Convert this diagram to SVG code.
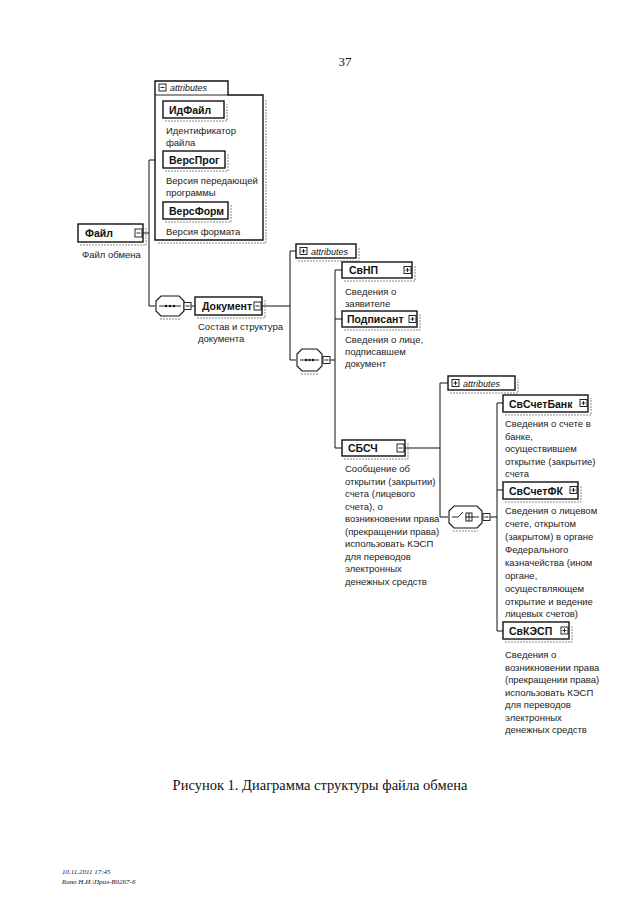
<svg xmlns="http://www.w3.org/2000/svg" width="640" height="905" viewBox="0 0 640 905">
<defs>
<style>
.bg{fill:#ffffff}
.node{fill:#ffffff;stroke:#111;stroke-width:1.4}
.shadow{fill:none;stroke:#888;stroke-width:1;stroke-dasharray:2,1}
.lbl{font-family:"Liberation Sans",Arial,sans-serif;font-size:10.5px;font-weight:bold;fill:#111}
.desc{font-family:"Liberation Sans",Arial,sans-serif;font-size:9.5px;fill:#222}
.attr{font-family:"Liberation Sans",Arial,sans-serif;font-size:9px;font-style:italic;fill:#111}
.pm{fill:#fff;stroke:#111;stroke-width:0.9}
.pmline{stroke:#111;stroke-width:0.9;fill:none}
.conn{stroke:#111;stroke-width:1;fill:none}
.comp{fill:#fff;stroke:#111;stroke-width:1.1}
.serif{font-family:"Liberation Serif","Times New Roman",serif;fill:#111}
</style>
</defs>
<rect class="bg" x="0" y="0" width="640" height="905"/>
<text class="serif" x="345" y="66" font-size="13" text-anchor="middle">37</text>

<g id="connectors">
<path class="conn" d="M143,233 H149 M149,160 V306 M149,160 H155 M149,306 H155"/>
<path class="conn" d="M191,306 H195"/>
<path class="conn" d="M262,306 H290 M290,251 V360 M290,251 H296 M290,360 H296"/>
<path class="conn" d="M330,360 H335 M335,270 V448 M335,270 H342 M335,319 H342 M335,448 H342"/>
<path class="conn" d="M405,448 H440 M440,383 V517 M440,383 H448 M440,517 H448"/>
<path class="conn" d="M490,517 H497 M497,403 V631 M497,403 H503 M497,490 H503 M497,631 H503"/>
</g>

<g id="attributes1">
<path class="shadow" d="M158,243 H266 V99"/>
<path class="node" d="M155,240 V81 H228 V95 H263 V240 Z" stroke-width="1"/>
<line class="pmline" x1="155" y1="95" x2="228" y2="95"/>
<rect class="pm" x="159" y="84" width="7" height="7"/>
<path class="pmline" d="M160.5,87.5 H164.5"/>
<text class="attr" x="170" y="91">attributes</text>
</g>

<g id="node-IdFile">
<path class="shadow" d="M165,121 H227 V104"/>
<rect class="node" x="163" y="101" width="61" height="17"/>
<text class="lbl" x="169" y="113.5">ИдФайл</text>
<text class="desc" x="166" y="134">Идентификатор</text>
<text class="desc" x="166" y="146">файла</text>
</g>

<g id="node-VersProg">
<path class="shadow" d="M165,171 H228 V154"/>
<rect class="node" x="163" y="151" width="62" height="17"/>
<text class="lbl" x="169" y="163.5">ВерсПрог</text>
<text class="desc" x="166" y="184">Версия передающей</text>
<text class="desc" x="166" y="196">программы</text>
</g>

<g id="node-VersForm">
<path class="shadow" d="M165,222 H231 V205"/>
<rect class="node" x="163" y="202" width="65" height="17"/>
<text class="lbl" x="169" y="214.5">ВерсФорм</text>
<text class="desc" x="166" y="235">Версия формата</text>
</g>

<g id="node-File">
<path class="shadow" d="M80,245 H146 V227"/>
<rect class="node" x="78" y="224" width="65" height="18"/>
<rect class="pm" x="135" y="229" width="7" height="8"/>
<path class="pmline" d="M136.5,233 H140.5"/>
<text class="lbl" x="85" y="237">Файл</text>
<text class="desc" x="82" y="258">Файл обмена</text>
</g>

<g id="compositor1">
<path class="shadow" d="M160,319 H180"/>
<path class="comp" d="M161,296 H179 L184,301 V311 L179,316 H161 L156,311 V301 Z"/>
<path class="pmline" d="M159,306 H181"/>
<circle cx="166" cy="306" r="1.2" fill="#111"/>
<circle cx="170" cy="306" r="1.2" fill="#111"/>
<circle cx="174" cy="306" r="1.2" fill="#111"/>
<rect class="pm" x="184" y="302.5" width="7" height="7"/>
<path class="pmline" d="M185.5,306 H189.5"/>
</g>

<g id="node-Document">
<path class="shadow" d="M197,318 H265 V300"/>
<rect class="node" x="195" y="297" width="67" height="18"/>
<rect class="pm" x="254" y="302" width="7" height="8"/>
<path class="pmline" d="M255.5,306 H259.5"/>
<text class="lbl" x="202" y="310">Документ</text>
<text class="desc" x="198" y="330">Состав и структура</text>
<text class="desc" x="198" y="342">документа</text>
</g>

<g id="attributes2">
<path class="shadow" d="M298,261 H359 V247"/>
<rect class="node" x="296" y="244" width="60" height="14" stroke-width="1"/>
<rect class="pm" x="300" y="247.5" width="7" height="7"/>
<path class="pmline" d="M301.5,251 H305.5 M303.5,249 V253"/>
<text class="attr" x="311" y="254.5">attributes</text>
</g>

<g id="compositor2">
<path class="shadow" d="M301,374 H318"/>
<path class="comp" d="M302,349 H317 L322,354 V366 L317,371 H302 L297,366 V354 Z"/>
<path class="pmline" d="M300,360 H319"/>
<circle cx="306" cy="360" r="1.2" fill="#111"/>
<circle cx="309.5" cy="360" r="1.2" fill="#111"/>
<circle cx="313" cy="360" r="1.2" fill="#111"/>
<rect class="pm" x="323" y="356.5" width="7" height="7"/>
<path class="pmline" d="M324.5,360 H328.5"/>
</g>

<g id="node-SvNP">
<path class="shadow" d="M344,281 H415 V265"/>
<rect class="node" x="342" y="262" width="70" height="16"/>
<rect class="pm" x="404" y="266.5" width="7" height="7"/>
<path class="pmline" d="M405.5,270 H409.5 M407.5,268 V272"/>
<text class="lbl" x="349" y="274">СвНП</text>
<text class="desc" x="345" y="295">Сведения о</text>
<text class="desc" x="345" y="307">заявителе</text>
</g>

<g id="node-Podpisant">
<path class="shadow" d="M344,330 H420 V314"/>
<rect class="node" x="342" y="311" width="75" height="16"/>
<rect class="pm" x="409" y="315.5" width="7" height="7"/>
<path class="pmline" d="M410.5,319 H414.5 M412.5,317 V321"/>
<text class="lbl" x="347" y="323">Подписант</text>
<text class="desc" x="345" y="343">Сведения о лице,</text>
<text class="desc" x="345" y="355">подписавшем</text>
<text class="desc" x="345" y="367">документ</text>
</g>

<g id="node-SBSCh">
<path class="shadow" d="M344,459 H408 V443"/>
<rect class="node" x="342" y="440" width="63" height="16"/>
<rect class="pm" x="397" y="444" width="7" height="8"/>
<path class="pmline" d="M398.5,448 H402.5"/>
<text class="lbl" x="348" y="452">СБСЧ</text>
<text class="desc" x="345" y="472">Сообщение об</text>
<text class="desc" x="345" y="484.5">открытии (закрытии)</text>
<text class="desc" x="345" y="497">счета (лицевого</text>
<text class="desc" x="345" y="509.5">счета), о</text>
<text class="desc" x="345" y="522">возникновении права</text>
<text class="desc" x="345" y="534.5">(прекращении права)</text>
<text class="desc" x="345" y="547">использовать КЭСП</text>
<text class="desc" x="345" y="559.5">для переводов</text>
<text class="desc" x="345" y="572">электронных</text>
<text class="desc" x="345" y="584.5">денежных средств</text>
</g>

<g id="attributes3">
<path class="shadow" d="M450,393 H518 V379"/>
<rect class="node" x="448" y="376" width="67" height="14" stroke-width="1"/>
<rect class="pm" x="452" y="379.5" width="7" height="7"/>
<path class="pmline" d="M453.5,383 H457.5 M455.5,381 V385"/>
<text class="attr" x="463" y="386.5">attributes</text>
</g>

<g id="compositor3">
<path class="shadow" d="M453,531 H478"/>
<path class="comp" d="M454,506 H477 L482,511 V523 L477,528 H454 L449,523 V511 Z"/>
<path class="pmline" d="M452,517 H458 L463,512 M465,517 H479"/>
<rect class="pm" x="466" y="513" width="6" height="8"/>
<path class="pmline" d="M466,517 H472 M469,513 V521"/>
<rect class="pm" x="483" y="513.5" width="7" height="7"/>
<path class="pmline" d="M484.5,517 H488.5"/>
</g>

<g id="node-SvSchetBank">
<path class="shadow" d="M505,415 H591 V398"/>
<rect class="node" x="503" y="395" width="85" height="17"/>
<rect class="pm" x="580" y="399.5" width="7" height="7"/>
<path class="pmline" d="M581.5,403 H585.5 M583.5,401 V405"/>
<text class="lbl" x="509" y="407.5">СвСчетБанк</text>
<text class="desc" x="505" y="427">Сведения о счете в</text>
<text class="desc" x="505" y="439.5">банке,</text>
<text class="desc" x="505" y="452">осуществившем</text>
<text class="desc" x="505" y="464.5">открытие (закрытие)</text>
<text class="desc" x="505" y="477">счета</text>
</g>

<g id="node-SvSchetFK">
<path class="shadow" d="M505,502 H581 V485"/>
<rect class="node" x="503" y="482" width="75" height="17"/>
<rect class="pm" x="570" y="486.5" width="7" height="7"/>
<path class="pmline" d="M571.5,490 H575.5 M573.5,488 V492"/>
<text class="lbl" x="509" y="494.5">СвСчетФК</text>
<text class="desc" x="505" y="514">Сведения о лицевом</text>
<text class="desc" x="505" y="527">счете, открытом</text>
<text class="desc" x="505" y="540">(закрытом) в органе</text>
<text class="desc" x="505" y="553">Федерального</text>
<text class="desc" x="505" y="566">казначейства (ином</text>
<text class="desc" x="505" y="579">органе,</text>
<text class="desc" x="505" y="592">осуществляющем</text>
<text class="desc" x="505" y="605">открытие и ведение</text>
<text class="desc" x="505" y="617">лицевых счетов)</text>
</g>

<g id="node-SvKESP">
<path class="shadow" d="M505,642 H572 V625"/>
<rect class="node" x="503" y="622" width="66" height="17"/>
<rect class="pm" x="561" y="627" width="7" height="7"/>
<path class="pmline" d="M562.5,630.5 H566.5 M564.5,628.5 V632.5"/>
<text class="lbl" x="509" y="634.5">СвКЭСП</text>
<text class="desc" x="505" y="658">Сведения о</text>
<text class="desc" x="505" y="671">возникновении права</text>
<text class="desc" x="505" y="683">(прекращении права)</text>
<text class="desc" x="505" y="696">использовать КЭСП</text>
<text class="desc" x="505" y="708">для переводов</text>
<text class="desc" x="505" y="721">электронных</text>
<text class="desc" x="505" y="733">денежных средств</text>
</g>

<text class="serif" x="320" y="790" font-size="14.5" text-anchor="middle">Рисунок 1. Диаграмма структуры файла обмена</text>
<text class="serif" x="62" y="874" font-size="7" font-style="italic" fill="#555">10.11.2011 17:45</text>
<text class="serif" x="62" y="884" font-size="7" font-style="italic" fill="#555">Бино Н.И.\Прил-В9267-6</text>
</svg>
